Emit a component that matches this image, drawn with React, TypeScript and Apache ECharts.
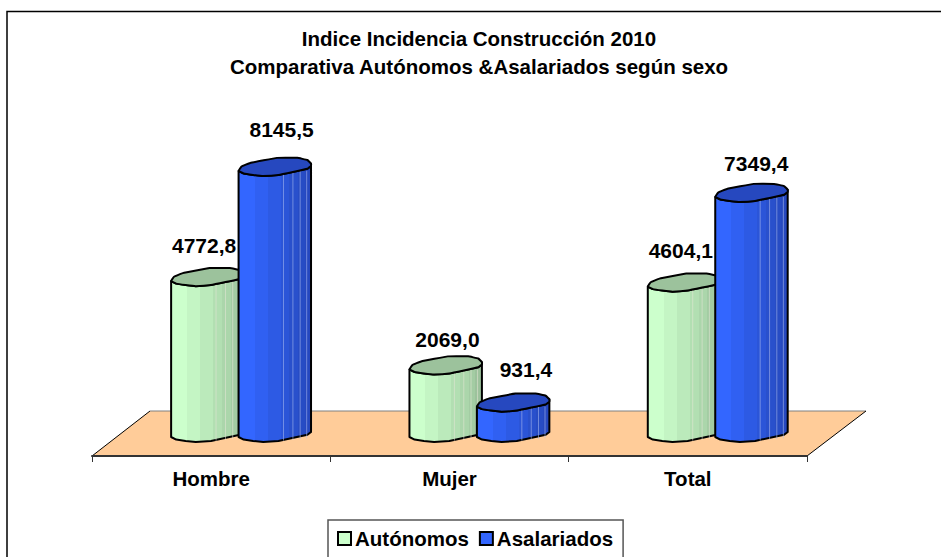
import React, { useEffect, useRef } from "react";
import * as echarts from "echarts";

const categories = ["Hombre", "Mujer", "Total"];
const autonomos = [4772.8, 2069.0, 4604.1];
const asalariados = [8145.5, 931.4, 7349.4];
const titleLines = ["Indice Incidencia Construcción 2010", "Comparativa Autónomos &Asalariados según sexo"];

const FONT = '"Liberation Sans", Arial, sans-serif';

// cylinder rim outline, in fractions of the bar width (73px)
const topRim: [number, number][] = [
  [0, 0], [0.04, -0.06], [0.16, -0.11], [0.53, -0.18], [0.81, -0.18], [0.95, -0.15], [1, -0.1],
  [1, -0.07], [0.95, -0.03], [0.55, 0.055], [0.34, 0.07], [0.2, 0.055], [0.07, 0.035],
];
const frontRim = topRim.slice(6).concat([[0, 0]] as [number, number][]);

function makeRenderer(
  bandOffset: number,
  stops: string[],
  topColor: string,
  lineColor: string,
  labelShift: [number, number][]
) {
  return (params: any, api: any) => {
    const i = api.value(0);
    const v = api.value(1);
    const [cx, yTop] = api.coord([i, v]);
    const [, y0] = api.coord([i, 0]);
    const band = api.size([1, 0])[0];
    const w = band * 0.304;
    const left = cx + band * bandOffset;
    const pts = (yy: number, list: [number, number][]) => list.map(([a, b]) => [left + a * w, yy + b * w]);
    const top = pts(yTop, topRim);
    const bottomFront = pts(y0, frontRim).reverse();
    const topFront = pts(yTop, frontRim).reverse();
    const body = [...topFront, ...bottomFront.slice().reverse()];
    const colorStops: any[] = [];
    const widths = [0.22, 0.4, 0.58, 0.7, 0.82, 0.91, 1];
    stops.forEach((c, k) => {
      colorStops.push({ offset: k === 0 ? 0 : widths[k - 1], color: c });
      colorStops.push({ offset: widths[k], color: c });
    });
    const outline = { stroke: "#000", lineWidth: 2, lineJoin: "round" };
    const children: any[] = [
      {
        type: "polygon",
        shape: { points: body },
        style: {
          fill: { type: "linear", x: 0, y: 0, x2: 1, y2: 0, colorStops },
          ...outline,
        },
      },
    ];
    [0.62, 0.75, 0.85, 0.94].forEach((f) => {
      children.push({
        type: "line",
        shape: { x1: left + f * w, y1: yTop, x2: left + f * w, y2: y0 + (0.14 - 0.1 * f) * w - 2 },
        style: { stroke: lineColor, lineWidth: 1, opacity: 0.55 },
      });
    });
    children.push({
      type: "polygon",
      shape: { points: top, smooth: 0.08 },
      style: { fill: topColor, ...outline },
    });
    const s = labelShift[i];
    children.push({
      type: "text",
      style: {
        text: v.toFixed(1).replace(".", ","),
        x: left + s[0],
        y: yTop + s[1],
        fill: "#000",
        font: `bold 21px ${FONT}`,
        align: "center",
        verticalAlign: "middle",
      },
    });
    return { type: "group", children };
  };
}

export default function App() {
  const ref = useRef<HTMLDivElement>(null);
  useEffect(() => {
    const chart = echarts.init(ref.current!, undefined, { renderer: "svg" });
    const option: any = {
      animation: false,
      backgroundColor: "#fff",
      title: {
        text: titleLines.join("\n"),
        left: 474,
        top: 19,
        textAlign: "center",
        textStyle: { fontFamily: FONT, fontWeight: "bold", fontSize: 20.5, lineHeight: 28, color: "#000" },
      },
      grid: { left: 92, right: 134, top: 143, bottom: 120 },
      xAxis: {
        type: "category",
        data: categories,
        offset: 19,
        axisLine: { onZero: false, lineStyle: { color: "#333", width: 2 } },
        axisTick: { show: true, length: 6, lineStyle: { color: "#333", width: 1 } },
        axisLabel: { color: "#000", fontFamily: FONT, fontWeight: "bold", fontSize: 20.5, margin: 12 },
      },
      yAxis: { type: "value", min: 0, max: 9000, show: false },
      legend: {
        data: ["Autónomos", "Asalariados"],
        left: 328,
        top: 520,
        backgroundColor: "#fff",
        borderColor: "#555",
        borderWidth: 1.5,
        borderRadius: 0,
        padding: [8, 10, 12, 9],
        itemGap: 10,
        itemWidth: 13,
        itemHeight: 13,
        icon: "rect",
        textStyle: { fontFamily: FONT, fontWeight: "bold", fontSize: 20.5, color: "#000", padding: [0, 0, 0, -1] },
      },
      graphic: [
        {
          type: "polyline",
          silent: true,
          z: -10,
          shape: { points: [[7, 570], [7, 11.5], [960, 11.5]] },
          style: { stroke: "#000", lineWidth: 1.5, fill: "none" },
        },
        {
          type: "polygon",
          silent: true,
          z: -5,
          shape: { points: [[92, 456], [150, 411], [866, 411], [807, 456]] },
          style: { fill: "#FFCC99", stroke: "none" },
        },
        { type: "line", silent: true, z: -4, shape: { x1: 150, y1: 411, x2: 866, y2: 411 }, style: { stroke: "#808080", lineWidth: 1 } },
        { type: "line", silent: true, z: -4, shape: { x1: 92, y1: 456, x2: 150, y2: 411 }, style: { stroke: "#000", lineWidth: 1 } },
        { type: "line", silent: true, z: -4, shape: { x1: 807, y1: 456, x2: 866, y2: 411 }, style: { stroke: "#000", lineWidth: 1 } },
      ],
      series: [
        {
          name: "Autónomos",
          type: "custom",
          itemStyle: { color: "#CCFFCC", borderColor: "#000", borderWidth: 1.5 },
          data: autonomos.map((v, i) => [i, v]),
          encode: { x: 0, y: 1 },
          renderItem: makeRenderer(
            -0.168,
            ["#CCFFCC", "#C4F5C4", "#BBEABB", "#B2DFB2", "#ABD6AB", "#A3CCA3", "#9CC29C"],
            "#9CC29C", "#E8E8D8",
            [[33, -36], [38, -30], [33, -36]]
          ),
        },
        {
          name: "Asalariados",
          type: "custom",
          itemStyle: { color: "#3366FF", borderColor: "#000", borderWidth: 1.5 },
          data: asalariados.map((v, i) => [i, v]),
          encode: { x: 0, y: 1 },
          renderItem: makeRenderer(
            0.115,
            ["#3366FF", "#3060F2", "#2D5AE4", "#2B55D8", "#2950CC", "#274CC4", "#2648BF"],
            "#2648BF", "#B0C0F0",
            [[43, -41], [49, -37], [41, -33]]
          ),
        },
      ],
    };
    chart.setOption(option);
    return () => chart.dispose();
  }, []);
  return <div ref={ref} style={{ position: "fixed", left: 0, top: 0, width: 941, height: 557 }} />;
}
